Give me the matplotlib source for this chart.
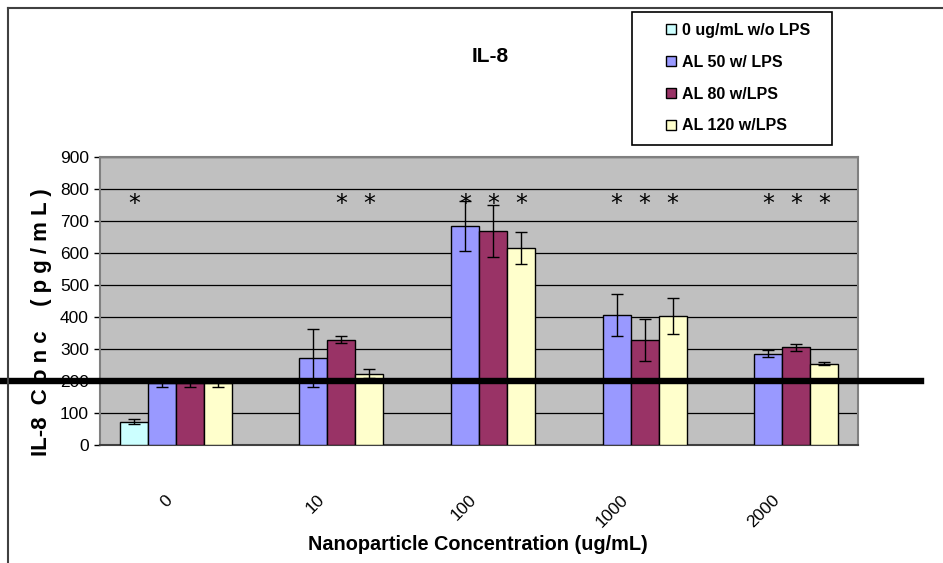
import matplotlib
matplotlib.use('Agg')
import matplotlib.pyplot as plt
import numpy as np
from matplotlib import font_manager as fm
from matplotlib.patches import Rectangle
from matplotlib.lines import Line2D

names = {f.name for f in fm.fontManager.ttflist}
NARROW = 'Liberation Sans Narrow' if 'Liberation Sans Narrow' in names else 'Liberation Sans'
plt.rcParams['font.family'] = [NARROW, 'DejaVu Sans']

# ---- data ----
categories = ['0', '10', '100', '1000', '2000']
series_names = ['0 ug/mL w/o LPS', 'AL 50 w/ LPS', 'AL 80 w/LPS', 'AL 120 w/LPS']
ctrl = [73, np.nan, np.nan, np.nan, np.nan]
ctrl_err = [7, 0, 0, 0, 0]
al50 = [193, 271, 683, 407, 285]
al50_err = [12, 90, 78, 66, 11]
al80 = [193, 329, 669, 328, 306]
al80_err = [12, 11, 81, 66, 11]
al120 = [193, 223, 615, 403, 254]
al120_err = [12, 15, 50, 56, 4]
reference_level = 200
star_level = 752
# (category index, series index) of significance asterisks
stars = [(0, 0), (1, 2), (1, 3), (2, 1), (2, 2), (2, 3),
         (3, 1), (3, 2), (3, 3), (4, 1), (4, 2), (4, 3)]
y_ticks = [0, 100, 200, 300, 400, 500, 600, 700, 800, 900]

colors = ['#CCFFFF', '#9999FF', '#993366', '#FFFFCC']
values = [ctrl, al50, al80, al120]
errors = [ctrl_err, al50_err, al80_err, al120_err]

W, H = 943, 563
fig = plt.figure(figsize=(W / 100, H / 100), dpi=100)
ax = fig.add_axes([100 / W, 118 / H, 758 / W, 288 / H])
ax.set_facecolor('#C0C0C0')

x = np.arange(len(categories))
bw = 0.1847
handles = []
for i, (vals, errs, c) in enumerate(zip(values, errors, colors)):
    pos = x + (i - 1.5) * bw
    b = ax.bar(pos, vals, width=bw, color=c, edgecolor='black', linewidth=1.0, zorder=3,
               label=series_names[i])
    handles.append(b)
    v = np.array(vals, dtype=float)
    e = np.array(errs, dtype=float)
    m = ~np.isnan(v)
    ax.errorbar(pos[m], v[m], yerr=e[m], fmt='none', ecolor='black', elinewidth=1.0,
                capsize=4, capthick=1.0, zorder=4)

for ci, si in stars:
    ax.text(x[ci] + (si - 1.5) * bw, star_level, '*', ha='center', va='center',
            fontsize=17, family='DejaVu Sans', color='black', zorder=6)

ax.set_xlim(-0.5, len(categories) - 0.5)
ax.set_ylim(0, 900)
ax.set_yticks(y_ticks)
ax.yaxis.grid(True, color='black', linewidth=0.9, zorder=1)
ax.set_axisbelow(True)
ax.set_xticks(x)
ax.set_xticklabels(categories, rotation=45, ha='right', va='top', fontsize=12.5)
ax.tick_params(axis='x', length=0, pad=34)
ax.tick_params(axis='y', direction='out', length=4, width=1, pad=4, labelsize=12.5)
for s in ax.spines.values():
    s.set_color('#808080')
    s.set_linewidth(1.5)
ax.spines['bottom'].set_color('#404040')

ax.axhline(reference_level, xmin=-0.132, xmax=1.083, color='black', lw=4.6,
           clip_on=False, zorder=7)

fig.text(490 / W, 1 - 56 / H, 'IL-8', ha='center', va='center', fontsize=15,
         fontweight='bold')
fig.text(478 / W, 1 - 545 / H, 'Nanoparticle Concentration (ug/mL)', ha='center',
         va='center', fontsize=14.3, fontweight='bold')
fig.text(42 / W, 1 - 322 / H, 'IL-8  C o n c    ( p g / m L )', ha='center', va='center',
         rotation=90, fontsize=16, fontweight='bold')

# outer frame
fig.add_artist(Line2D([8 / W, 8 / W], [0, 1 - 8 / H], transform=fig.transFigure,
                      color='#404040', lw=1.5))
fig.add_artist(Line2D([8 / W, 1], [1 - 8 / H, 1 - 8 / H], transform=fig.transFigure,
                      color='#404040', lw=1.5))

# legend box
fig.add_artist(Rectangle((632 / W, 1 - 145 / H), 200 / W, 133 / H, transform=fig.transFigure,
                         facecolor='white', edgecolor='black', lw=1.2))
leg = fig.legend(handles=handles, labels=series_names, loc='upper left',
                 bbox_to_anchor=(666 / W, 1 - 23 / H), frameon=False,
                 prop={'family': NARROW, 'weight': 'bold', 'size': 11.5},
                 handlelength=0.6, handleheight=0.6, handletextpad=0.4,
                 labelspacing=1.05, borderpad=0, borderaxespad=0)

fig.savefig('out.png', dpi=100)
